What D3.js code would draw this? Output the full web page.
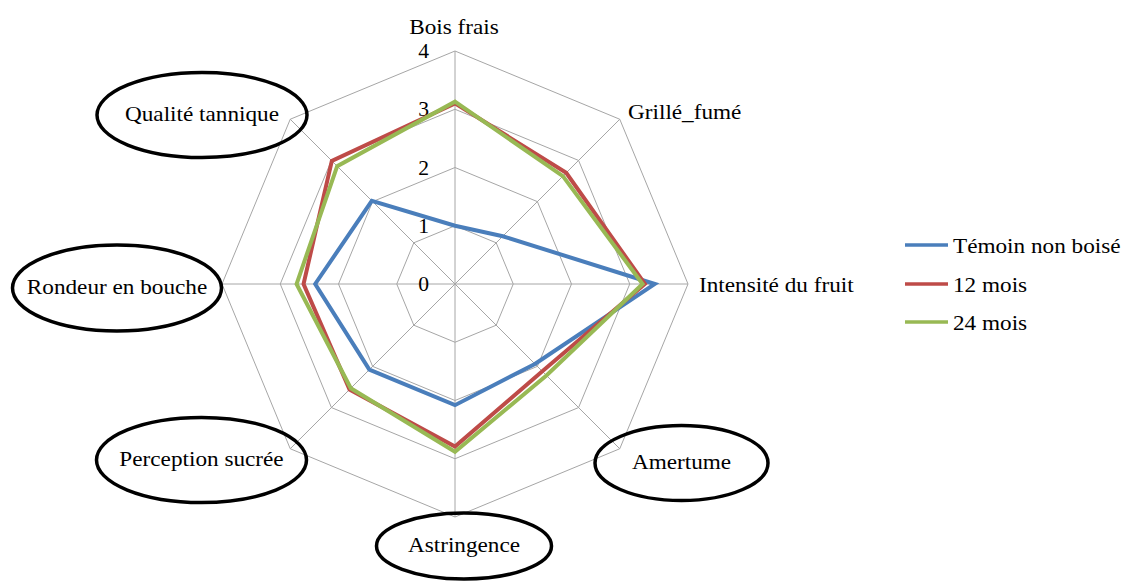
<!DOCTYPE html>
<html>
<head>
<meta charset="utf-8">
<script src="https://cdn.jsdelivr.net/npm/d3@7"></script>
<style>
  body { margin: 0; background: #fff; }
</style>
</head>
<body>
<div class="radar"></div>
<script>
var categories = ["Bois frais", "Grillé_fumé", "Intensité du fruit", "Amertume",
  "Astringence", "Perception sucrée", "Rondeur en bouche", "Qualité tannique"]
var temoin = [1.0, 1.16, 3.43, 1.94, 2.08, 2.08, 2.40, 2.02]
var mois12 = [3.10, 2.70, 3.26, 2.12, 2.79, 2.56, 2.60, 2.99]
var mois24 = [3.13, 2.62, 3.22, 2.22, 2.88, 2.53, 2.72, 2.86]
var seriesNames = ["Témoin non boisé", "12 mois", "24 mois"]
var seriesColors = ["#4a7ebb", "#be4b48", "#98b954"]
var ticks = [0, 1, 2, 3, 4]

document.addEventListener("DOMContentLoaded", runD3)

function runD3() {
  var width = 1124,
    height = 585,
    cx = 455,
    cy = 284,
    R = 233,
    font = "'Liberation Serif', 'Times New Roman', 'DejaVu Serif', serif"

  var svg = d3.select(".radar").append("svg")
    .attr("width", width)
    .attr("height", height)
    .attr("font-family", font)

  var r = d3.scaleLinear().domain([0, 4]).range([0, R])
  var angle = d3.scaleLinear().domain([0, categories.length]).range([0, 2 * Math.PI])

  function pt(i, v) {
    var a = angle(i)
    return [cx + r(v) * Math.sin(a), cy - r(v) * Math.cos(a)]
  }

  var grid = svg.append("g").attr("class", "grid")
    .attr("fill", "none").attr("stroke", "#a6a6a6").attr("stroke-width", 1)

  // octagon rings
  grid.selectAll("path.ring")
    .data(ticks.slice(1))
    .enter().append("path")
    .attr("class", "ring")
    .attr("d", function (t) {
      return d3.line()(categories.map(function (c, i) { return pt(i, t) })) + "Z"
    })

  // spokes
  grid.selectAll("line.spoke")
    .data(categories)
    .enter().append("line")
    .attr("class", "spoke")
    .attr("x1", cx).attr("y1", cy)
    .attr("x2", function (d, i) { return pt(i, 4)[0] })
    .attr("y2", function (d, i) { return pt(i, 4)[1] })

  // tick labels
  svg.append("g").selectAll("text")
    .data(ticks)
    .enter().append("text")
    .attr("x", 0)
    .attr("y", 0)
    .attr("dy", "0.35em")
    .attr("text-anchor", "end")
    .attr("font-size", 20)
    .attr("transform", function (t) {
      return "translate(" + (cx - 26) + "," + (cy - r(t)) + ") scale(1.08,1)"
    })
    .text(function (t) { return t })

  // series
  var series = [temoin, mois12, mois24]
  svg.append("g").selectAll("path.serie")
    .data(series)
    .enter().append("path")
    .attr("class", "serie")
    .attr("fill", "none")
    .attr("stroke", function (d, i) { return seriesColors[i] })
    .attr("stroke-width", 4)
    .attr("stroke-linejoin", "miter")
    .attr("d", function (vals) {
      return d3.line()(vals.map(function (v, i) { return pt(i, v) })) + "Z"
    })

  // category labels; ellipse sizes for the circled ones
  var labelPos = [
    { x: 454, y: 26, anchor: "middle" },
    { x: 628, y: 111, anchor: "start" },
    { x: 699, y: 284, anchor: "start" },
    { x: 681.5, y: 461, anchor: "middle", rx: 86.5, ry: 37.5 },
    { x: 464, y: 544, anchor: "middle", rx: 87.5, ry: 33 },
    { x: 201.5, y: 458, anchor: "middle", rx: 105, ry: 42.5 },
    { x: 117, y: 286, anchor: "middle", rx: 104.5, ry: 43 },
    { x: 202, y: 113, anchor: "middle", rx: 105, ry: 42.5 }
  ]

  var ell = svg.append("g").attr("class", "ellipses")
  labelPos.forEach(function (p, i) {
    if (p.rx) {
      ell.append("ellipse")
        .attr("cx", p.x).attr("cy", p.y + 2)
        .attr("rx", p.rx).attr("ry", p.ry)
        .attr("fill", "none").attr("stroke", "#000").attr("stroke-width", 3.5)
    }
  })

  svg.append("g").selectAll("text.cat")
    .data(categories)
    .enter().append("text")
    .attr("class", "cat")
    .attr("x", 0).attr("y", 0)
    .attr("dy", "0.35em")
    .attr("font-size", 21.5)
    .attr("text-anchor", function (d, i) { return labelPos[i].anchor })
    .attr("transform", function (d, i) {
      return "translate(" + labelPos[i].x + "," + labelPos[i].y + ") scale(1.08,1)"
    })
    .text(function (d) { return d })

  // legend
  var legend = svg.append("g").attr("class", "legend")
    .selectAll("g")
    .data(seriesNames)
    .enter().append("g")
    .attr("transform", function (d, i) { return "translate(905," + [245, 284, 322][i] + ")" })

  legend.append("line")
    .attr("x1", 0).attr("x2", 43)
    .attr("y1", 0).attr("y2", 0)
    .attr("stroke", function (d, i) { return seriesColors[i] })
    .attr("stroke-width", 3.5)

  legend.append("text")
    .attr("x", 0).attr("y", 0)
    .attr("dy", "0.35em")
    .attr("font-size", 21.5)
    .attr("transform", "translate(48,0) scale(1.08,1)")
    .text(function (d) { return d })
}
</script>
</body>
</html>
